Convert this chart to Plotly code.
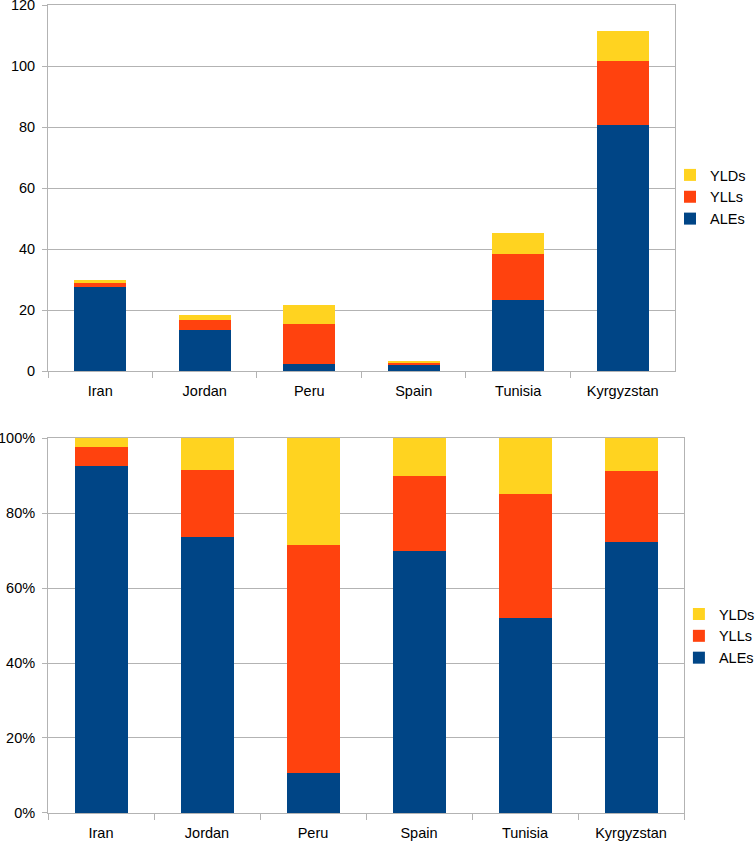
import plotly.graph_objects as go

countries = ["Iran", "Jordan", "Peru", "Spain", "Tunisia", "Kyrgyzstan"]
ales = [27.45, 13.55, 2.3, 2.1, 23.4, 80.5]
ylls = [1.55, 3.3, 13.15, 0.6, 15.0, 21.2]
ylds = [0.7, 1.55, 6.15, 0.3, 6.7, 9.8]

series_names = ["ALEs", "YLLs", "YLDs"]
series_values = [ales, ylls, ylds]
colors = ["#004586", "#ff420e", "#ffd320"]

totals = [a + b + c for a, b, c in zip(ales, ylls, ylds)]

fig = go.Figure()
for name, vals, col in zip(series_names, series_values, colors):
    fig.add_trace(go.Bar(x=countries, y=vals, name=name, marker=dict(color=col, line=dict(width=0)),
                         width=0.5, xaxis="x", yaxis="y", legend="legend"))
for name, vals, col in zip(series_names, series_values, colors):
    pct = [v / t * 100 for v, t in zip(vals, totals)]
    fig.add_trace(go.Bar(x=countries, y=pct, name=name, marker=dict(color=col, line=dict(width=0)),
                         width=0.5, xaxis="x2", yaxis="y2", legend="legend2"))

font = dict(family="Liberation Sans, Arial, sans-serif", size=14.5, color="#000000")
axis_common = dict(showline=True, mirror=True, linecolor="#b3b3b3", linewidth=1,
                   tickfont=font, zeroline=False, automargin=False, ticklabeloverflow="allow")

fig.update_layout(
    width=755, height=841,
    margin=dict(l=48, r=71, t=5, b=28, autoexpand=False),
    paper_bgcolor="white", plot_bgcolor="white",
    barmode="stack",
    font=font,
    xaxis=dict(domain=[0, 0.9858], anchor="y", type="category", tickson="boundaries",
               ticks="outside", ticklen=6, tickcolor="#b3b3b3", showgrid=False,
               ticklabelstandoff=7, **axis_common),
    yaxis=dict(domain=[0.547, 1], anchor="x", range=[0, 120], dtick=20, showgrid=True,
               gridcolor="#b3b3b3", ticks="outside", ticklen=5, tickcolor="#b3b3b3",
               ticklabelstandoff=4, **axis_common),
    xaxis2=dict(domain=[0, 1], anchor="y2", type="category", tickson="boundaries",
                ticks="outside", ticklen=6, tickcolor="#b3b3b3", showgrid=False,
                ticklabelstandoff=7, **axis_common),
    yaxis2=dict(domain=[0, 0.4641], anchor="x2", range=[0, 100], dtick=20, ticksuffix="%",
                showgrid=True, gridcolor="#b3b3b3", ticks="outside", ticklen=5, tickcolor="#b3b3b3",
                ticklabelstandoff=4, **axis_common),
    legend=dict(x=0.978, xanchor="left", y=0.7624, yanchor="middle", traceorder="reversed",
                font=font, bgcolor="rgba(0,0,0,0)"),
    legend2=dict(x=0.992, xanchor="left", y=0.219, yanchor="middle", traceorder="reversed",
                 font=font, bgcolor="rgba(0,0,0,0)"),
    showlegend=True,
)

fig.write_html("out.html", config={"displayModeBar": False},
               post_script="document.body.style.margin='0px';")
